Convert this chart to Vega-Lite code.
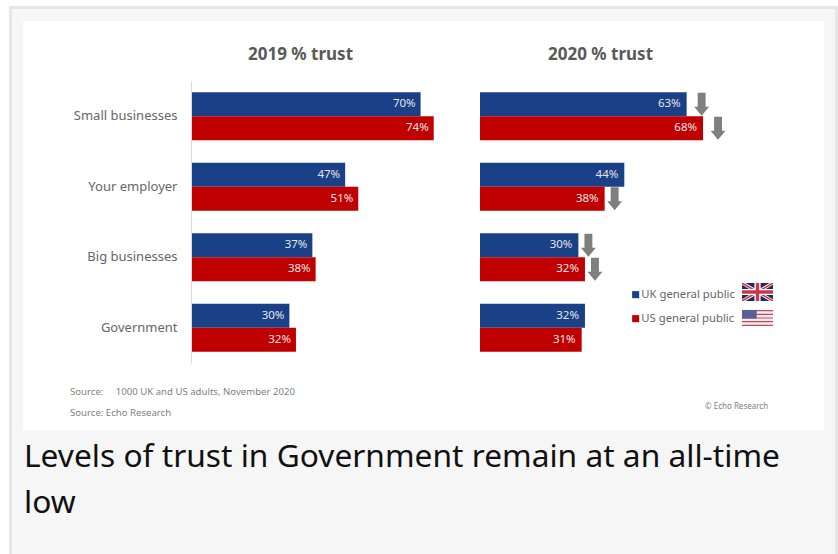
{
"$schema":"https://vega.github.io/schema/vega-lite/v6.json",
"width":838,"height":554,
"autosize":{"type":"fit","contains":"padding"},
"padding":0,
"background":"#ffffff",
"config":{"view":{"stroke":null},"text":{"font":"Noto Sans"}},
"datasets":{
"trust":[
{"category":"Small businesses","series":"UK general public","panel":"2019","value":70,"drop":false},
{"category":"Small businesses","series":"US general public","panel":"2019","value":74,"drop":false},
{"category":"Your employer","series":"UK general public","panel":"2019","value":47,"drop":false},
{"category":"Your employer","series":"US general public","panel":"2019","value":51,"drop":false},
{"category":"Big businesses","series":"UK general public","panel":"2019","value":37,"drop":false},
{"category":"Big businesses","series":"US general public","panel":"2019","value":38,"drop":false},
{"category":"Government","series":"UK general public","panel":"2019","value":30,"drop":false},
{"category":"Government","series":"US general public","panel":"2019","value":32,"drop":false},
{"category":"Small businesses","series":"UK general public","panel":"2020","value":63,"drop":true},
{"category":"Small businesses","series":"US general public","panel":"2020","value":68,"drop":true},
{"category":"Your employer","series":"UK general public","panel":"2020","value":44,"drop":false},
{"category":"Your employer","series":"US general public","panel":"2020","value":38,"drop":true},
{"category":"Big businesses","series":"UK general public","panel":"2020","value":30,"drop":true},
{"category":"Big businesses","series":"US general public","panel":"2020","value":32,"drop":true},
{"category":"Government","series":"UK general public","panel":"2020","value":32,"drop":false},
{"category":"Government","series":"US general public","panel":"2020","value":31,"drop":false}
],
"one":[{"a":1}]
},
"data":{"name":"one"},
"layer":[
{"mark":{"type":"rect","color":"#e6e6e6"},"encoding":{"x":{"value":9},"x2":{"value":838},"y":{"value":6},"y2":{"value":554}}},
{"mark":{"type":"rect","color":"#f6f6f6"},"encoding":{"x":{"value":12},"x2":{"value":835},"y":{"value":9},"y2":{"value":554}}},
{"mark":{"type":"rect","color":"#ffffff"},"encoding":{"x":{"value":23},"x2":{"value":824},"y":{"value":21},"y2":{"value":430}}},
{
"data":{"name":"trust"},
"encoding":{
"y":{"field":"category","type":"nominal","sort":["Small businesses","Your employer","Big businesses","Government"],
"scale":{"range":[81,363],"paddingInner":0.32,"paddingOuter":0.16},
"axis":{"title":null,"offset":-191,"labelPadding":14,"ticks":false,"domainColor":"#d9d9d9","domainWidth":1,"labelColor":"#666666","labelFont":"Noto Sans","labelFontSize":13,"zindex":1,"grid":false}},
"yOffset":{"field":"series","type":"nominal","scale":{"domain":["UK general public","US general public"],"paddingInner":0,"paddingOuter":0}}
},
"layer":[
{"transform":[{"filter":"datum.panel==='2019'"}],"mark":{"type":"bar"},
"encoding":{"x":{"field":"value","type":"quantitative","axis":null,"scale":{"domain":[0,100],"range":[191,519]}},
"color":{"field":"series","type":"nominal","scale":{"domain":["UK general public","US general public"],"range":["#1a4088","#c00000"]},
"legend":{"orient":"none","legendX":630,"legendY":289,"title":null,"symbolType":"square","symbolSize":50,"labelFont":"Noto Sans","labelFontSize":11.3,"labelColor":"#666666","rowPadding":12,"labelOffset":0,"symbolStrokeWidth":0}}}},
{"transform":[{"filter":"datum.panel==='2020'"}],"mark":{"type":"bar"},
"encoding":{"x":{"field":"value","type":"quantitative","axis":null,"scale":{"domain":[0,100],"range":[480,808]}},
"color":{"field":"series","type":"nominal"}}},
{"transform":[{"filter":"datum.panel==='2019'"},{"calculate":"datum.value+'%'","as":"label"}],"mark":{"type":"text","align":"right","baseline":"middle","dx":-5,"fontSize":11.5,"color":"#e6e6e6"},
"encoding":{"x":{"field":"value","type":"quantitative","axis":null,"scale":{"domain":[0,100],"range":[191,519]}},"text":{"field":"label"}}},
{"transform":[{"filter":"datum.panel==='2020'"},{"calculate":"datum.value+'%'","as":"label"}],"mark":{"type":"text","align":"right","baseline":"middle","dx":-6,"fontSize":11.5,"color":"#e6e6e6"},
"encoding":{"x":{"field":"value","type":"quantitative","axis":null,"scale":{"domain":[0,100],"range":[480,808]}},"text":{"field":"label"}}},
{"transform":[{"filter":"datum.panel==='2020' && datum.drop && datum.value>=50"}],"mark":{"type":"point","filled":true,"opacity":1,"color":"#7f7f7f","size":576,"shape":"M-.33,-.96H.33V.2H.62L0,.96L-.62,.2H-.33Z","xOffset":15},
"encoding":{"x":{"field":"value","type":"quantitative","axis":null,"scale":{"domain":[0,100],"range":[480,808]}}}},
{"transform":[{"filter":"datum.panel==='2020' && datum.drop && datum.value<50"}],"mark":{"type":"point","filled":true,"opacity":1,"color":"#7f7f7f","size":576,"shape":"M-.33,-.96H.33V.2H.62L0,.96L-.62,.2H-.33Z","xOffset":10},
"encoding":{"x":{"field":"value","type":"quantitative","axis":null,"scale":{"domain":[0,100],"range":[480,808]}}}}
],
"resolve":{"scale":{"x":"independent"}}
},
{"mark":{"type":"text","text":"2019 % trust","fontSize":17,"fontWeight":"bold","color":"#595959","align":"center","baseline":"middle"},"encoding":{"x":{"value":300.5},"y":{"value":55}}},
{"mark":{"type":"text","text":"2020 % trust","fontSize":17,"fontWeight":"bold","color":"#595959","align":"center","baseline":"middle"},"encoding":{"x":{"value":600.5},"y":{"value":55}}},
{"mark":{"type":"text","text":"Source:\u00a0\u00a0\u00a0\u00a0\u00a01000 UK and US adults, November 2020","fontSize":9.6,"color":"#7f7f7f","align":"left","baseline":"middle"},"encoding":{"x":{"value":70},"y":{"value":392}}},
{"mark":{"type":"text","text":"Source: Echo Research","fontSize":9.6,"color":"#7f7f7f","align":"left","baseline":"middle"},"encoding":{"x":{"value":70},"y":{"value":412.5}}},
{"mark":{"type":"text","text":"© Echo Research","fontSize":8,"color":"#7f7f7f","align":"left","baseline":"middle"},"encoding":{"x":{"value":705},"y":{"value":407}}},
{"mark":{"type":"text","text":"Levels of trust in Government remain at an all-time\nlow","lineBreak":"\n","lineHeight":46,"fontSize":31.7,"color":"#111111","align":"left","baseline":"alphabetic"},"encoding":{"x":{"value":24},"y":{"value":467}}},
{"mark":{"type":"point","filled":true,"opacity":1,"color":"#1f2a5e","size":961,"shape":"M-1,-.58H1V.58H-1Z"},"encoding":{"x":{"value":757.5},"y":{"value":292}}},
{"mark":{"type":"point","filled":true,"opacity":1,"color":"#ffffff","size":961,"shape":"M-1,-.58H-.78L1,.46V.58H.78L-1,-.46Z"},"encoding":{"x":{"value":757.5},"y":{"value":292}}},
{"mark":{"type":"point","filled":true,"opacity":1,"color":"#ffffff","size":961,"shape":"M1,-.58H.78L-1,.46V.58H-.78L1,-.46Z"},"encoding":{"x":{"value":757.5},"y":{"value":292}}},
{"mark":{"type":"point","filled":true,"opacity":1,"color":"#c8394f","size":961,"shape":"M-1,-.58H-.9L1,.52V.58H.9L-1,-.52Z"},"encoding":{"x":{"value":757.5},"y":{"value":292}}},
{"mark":{"type":"point","filled":true,"opacity":1,"color":"#c8394f","size":961,"shape":"M1,-.58H.9L-1,.52V.58H-.9L1,-.52Z"},"encoding":{"x":{"value":757.5},"y":{"value":292}}},
{"mark":{"type":"point","filled":true,"opacity":1,"color":"#ffffff","size":961,"shape":"M-.2,-.58H.2V-.2H1V.2H.2V.58H-.2V.2H-1V-.2H-.2Z"},"encoding":{"x":{"value":757.5},"y":{"value":292}}},
{"mark":{"type":"point","filled":true,"opacity":1,"color":"#c8394f","size":961,"shape":"M-.11,-.58H.11V-.11H1V.11H.11V.58H-.11V.11H-1V-.11H-.11Z"},"encoding":{"x":{"value":757.5},"y":{"value":292}}},
{"mark":{"type":"point","filled":true,"opacity":1,"color":"#f4eef0","size":961,"shape":"M-1,-.52H1V.52H-1Z"},"encoding":{"x":{"value":757.5},"y":{"value":318}}},
{"mark":{"type":"point","filled":true,"opacity":1,"color":"#c8475c","size":961,"shape":"M-1,-.52H1V-.44H-1ZM-1,-.28H1V-.2H-1ZM-1,-.04H1V.04H-1ZM-1,.2H1V.28H-1ZM-1,.44H1V.52H-1Z"},"encoding":{"x":{"value":757.5},"y":{"value":318}}},
{"mark":{"type":"point","filled":true,"opacity":1,"color":"#5a5f96","size":961,"shape":"M-1,-.52H-.05V.04H-1Z"},"encoding":{"x":{"value":757.5},"y":{"value":318}}}
]
}
